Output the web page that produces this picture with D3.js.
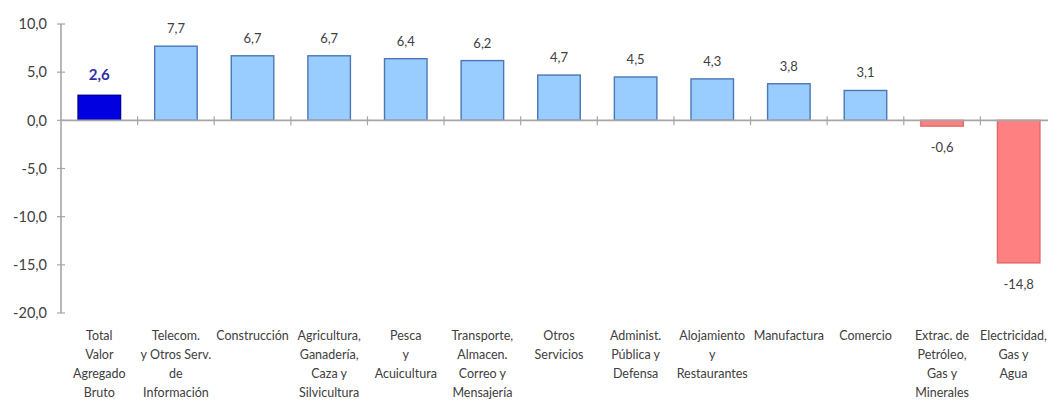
<!DOCTYPE html>
<html>
<head>
<meta charset="utf-8">
<script src="https://cdn.jsdelivr.net/npm/d3@7"></script>
<style>
  html, body { margin: 0; padding: 0; background: #ffffff; }
  svg { display: block; }
  text { font-family: Lato, "Open Sans", sans-serif; }
</style>
</head>
<body>
<svg id="chart" width="1048" height="401"></svg>
<script>
// Variación porcentual del valor agregado por actividad económica
const categories = [
  ["Total", "Valor", "Agregado", "Bruto"],
  ["Telecom.", "y Otros Serv.", "de", "Información"],
  ["Construcción"],
  ["Agricultura,", "Ganadería,", "Caza y", "Silvicultura"],
  ["Pesca", "y", "Acuicultura"],
  ["Transporte,", "Almacen.", "Correo y", "Mensajería"],
  ["Otros", "Servicios"],
  ["Administ.", "Pública y", "Defensa"],
  ["Alojamiento", "y", "Restaurantes"],
  ["Manufactura"],
  ["Comercio"],
  ["Extrac. de", "Petróleo,", "Gas y", "Minerales"],
  ["Electricidad,", "Gas y", "Agua"]
];
const values = [2.6, 7.7, 6.7, 6.7, 6.4, 6.2, 4.7, 4.5, 4.3, 3.8, 3.1, -0.6, -14.8];
const yTicks = [10, 5, 0, -5, -10, -15, -20];

const svg = d3.select("#chart");
const locale = d3.formatLocale({ decimal: ",", thousands: ".", grouping: [3], currency: ["", ""], minus: "-" });
const fmt = locale.format(".1f");

const x = d3.scaleBand()
  .domain(d3.range(values.length))
  .range([61, 1057])
  .paddingInner(0.445)
  .paddingOuter(0.2225);

const y = d3.scaleLinear().domain([-20, 10]).range([313, 24]);

const axisColor = "#a6a6a6";
const textColor = "#404040";

// Y axis with crossing ticks
const yAxis = svg.append("g").attr("transform", "translate(61,0)");
yAxis.append("line")
  .attr("x1", 0).attr("x2", 0)
  .attr("y1", y(10)).attr("y2", y(-20))
  .attr("stroke", axisColor).attr("stroke-width", 1.6);
yAxis.selectAll("line.tick").data(yTicks).join("line")
  .attr("class", "tick")
  .attr("x1", -4).attr("x2", 4)
  .attr("y1", d => y(d)).attr("y2", d => y(d))
  .attr("stroke", axisColor).attr("stroke-width", 1.2);
yAxis.selectAll("text").data(yTicks).join("text")
  .attr("x", -14).attr("y", d => y(d)).attr("dy", "0.36em")
  .attr("text-anchor", "end")
  .attr("font-size", 14.5)
  .attr("fill", textColor)
  .text(fmt);

// Bars
const fills = values.map((v, i) => i === 0 ? "#0000e0" : (v < 0 ? "#ff8080" : "#99ccff"));
const strokes = values.map((v, i) => i === 0 ? "#00009a" : (v < 0 ? "#e36a6a" : "#4a78b5"));

svg.append("g").selectAll("rect").data(values).join("rect")
  .attr("x", (d, i) => x(i))
  .attr("width", x.bandwidth())
  .attr("y", d => y(Math.max(0, d)))
  .attr("height", d => Math.abs(y(d) - y(0)))
  .attr("fill", (d, i) => fills[i])
  .attr("stroke", (d, i) => strokes[i])
  .attr("stroke-width", 1.4);

// X axis (zero line) with crossing ticks at category boundaries
const step = x.step();
const xAxis = svg.append("g");
xAxis.append("line")
  .attr("x1", 61).attr("x2", 1057)
  .attr("y1", y(0)).attr("y2", y(0))
  .attr("stroke", axisColor).attr("stroke-width", 1.6);
xAxis.selectAll("line.tick").data(d3.range(1, values.length)).join("line")
  .attr("class", "tick")
  .attr("x1", i => 61 + i * step).attr("x2", i => 61 + i * step)
  .attr("y1", y(0) - 4).attr("y2", y(0) + 5)
  .attr("stroke", axisColor).attr("stroke-width", 1.2);

// Value labels
svg.append("g").selectAll("text").data(values).join("text")
  .attr("x", (d, i) => x(i) + x.bandwidth() / 2)
  .attr("y", (d, i) => i === 0 ? y(d) - 15 : (d >= 0 ? y(d) - 13 : y(d) + 26))
  .attr("text-anchor", "middle")
  .attr("font-size", (d, i) => i === 0 ? 15 : 13)
  .attr("font-weight", (d, i) => i === 0 ? "bold" : "normal")
  .attr("fill", (d, i) => i === 0 ? "#2f2fae" : textColor)
  .text(fmt);

// Category labels
const catG = svg.append("g");
categories.forEach((lines, i) => {
  const cx = x(i) + x.bandwidth() / 2;
  const t = catG.append("text")
    .attr("text-anchor", "middle")
    .attr("font-size", 12.5)
    .attr("fill", textColor);
  lines.forEach((ln, k) => {
    t.append("tspan").attr("x", cx).attr("y", 340 + k * 19).text(ln);
  });
  // keep the rightmost label inside the drawing area
  const bb = t.node().getBBox();
  if (bb.x + bb.width > 1047) {
    t.selectAll("tspan").attr("x", cx - (bb.x + bb.width - 1047));
  }
});
</script>
</body>
</html>
